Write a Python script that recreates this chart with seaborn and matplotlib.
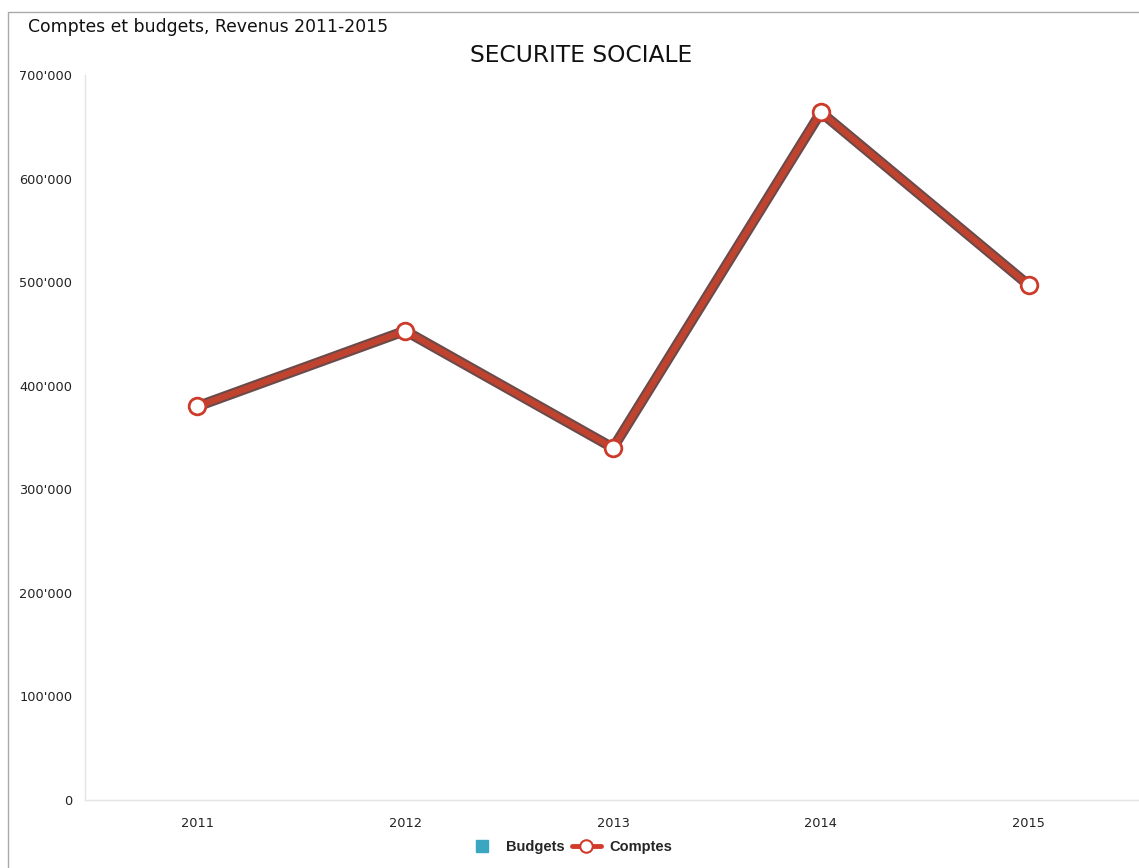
import matplotlib
matplotlib.use("Agg")
import matplotlib.pyplot as plt
import seaborn as sns
import pandas as pd
from matplotlib.lines import Line2D
from matplotlib.patches import Rectangle
from matplotlib.ticker import FuncFormatter

years = ["2011", "2012", "2013", "2014", "2015"]
budgets = [380000, 453000, 340000, 664000, 497000]
comptes = [380000, 453000, 340000, 664000, 497000]

sns.set_theme(style="white")
plt.rcParams['font.family'] = ['DejaVu Sans']

fig = plt.figure(figsize=(11.39, 8.68), dpi=100)
ax = fig.add_axes([85/1139, (868-800)/868, (1139-85)/1139, (800-75)/868])

df = pd.DataFrame({"year": years, "Budgets": budgets, "Comptes": comptes})

sns.lineplot(data=df, x="year", y="Budgets", ax=ax, color="#6b4a4a", linewidth=7.5,
             sort=False, legend=False)
sns.lineplot(data=df, x="year", y="Comptes", ax=ax, color="#c0432f", linewidth=4.5,
             marker="o", markersize=12, markerfacecolor="white",
             markeredgecolor="#cc3a2a", markeredgewidth=2.0, sort=False, legend=False)

ax.set_xlim(-0.54, 4.53)
ax.set_ylim(0, 700000)
ax.set_yticks(range(0, 700001, 100000))
ax.yaxis.set_major_formatter(FuncFormatter(lambda v, p: "0" if v == 0 else f"{int(v):,}".replace(",", "'")))
ax.set_xlabel("")
ax.set_ylabel("")
ax.tick_params(axis="both", labelsize=9.3, colors="#222222", length=0)
ax.tick_params(axis="x", pad=12)
ax.tick_params(axis="y", pad=9)
for s in ["top", "right"]:
    ax.spines[s].set_visible(False)
for s in ["left", "bottom"]:
    ax.spines[s].set_color("#e4e4e4")
    ax.spines[s].set_linewidth(1)

fig.text(28/1139, 1 - 27/868, "Comptes et budgets, Revenus 2011-2015", fontsize=12.4,
         ha="left", va="center", color="#111111")
fig.text(581/1139, 1 - 56/868, "SECURITE SOCIALE", fontsize=16.8,
         ha="center", va="center", color="#111111")

fig.patches.append(Rectangle((8/1139, -0.05), 1.2, 1.05 - 12/868, transform=fig.transFigure,
                             fill=False, edgecolor="#aaaaaa", linewidth=1))

handles = [
    Line2D([], [], linestyle="none", marker="s", markersize=8,
           markerfacecolor="#3aa6c2", markeredgecolor="#3aa6c2"),
    Line2D([], [], color="#d23a2a", linewidth=3.5, marker="o", markersize=9,
           markerfacecolor="white", markeredgecolor="#d23a2a", markeredgewidth=1.5),
]
fig.legend(handles, ["Budgets", "Comptes"], loc="center", bbox_to_anchor=(570/1139, 1 - 847/868),
           ncol=2, frameon=False, handlelength=2, columnspacing=0.5,
           handletextpad=0.6, prop={"weight": "bold", "size": 10.5, "family": "Liberation Sans"})

fig.savefig("out.png", dpi=100, facecolor="white")
